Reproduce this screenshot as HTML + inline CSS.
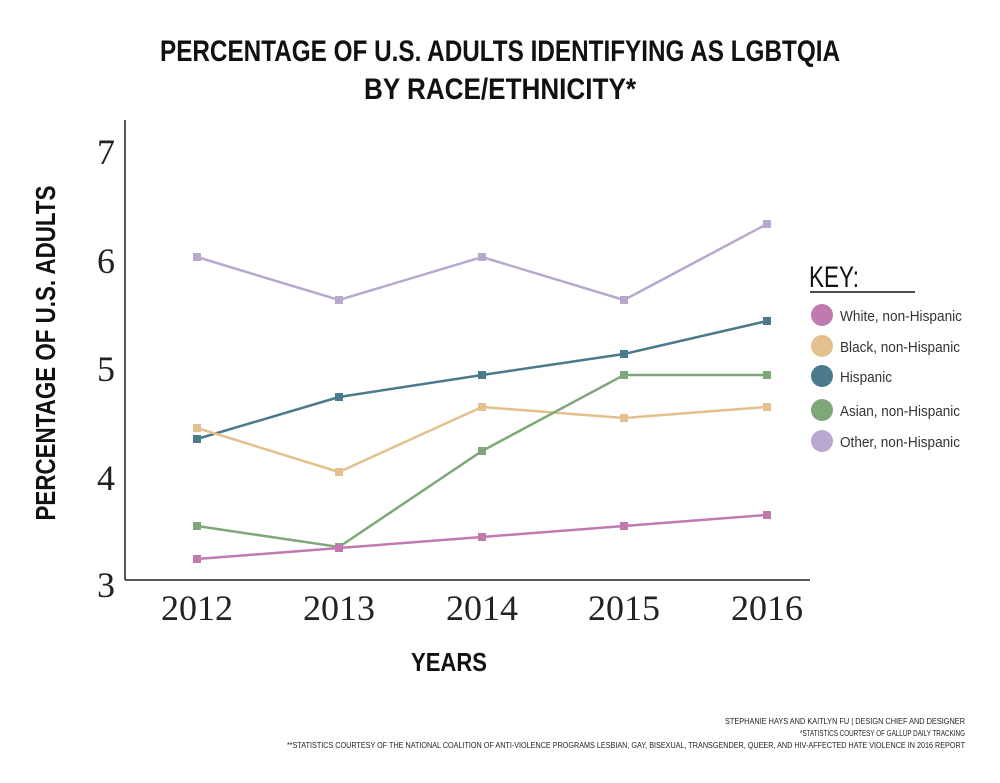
<!DOCTYPE html>
<html><head><style>body{margin:0;background:#fff}</style></head><body>
<svg width="1000" height="778" xmlns="http://www.w3.org/2000/svg">
<rect width="1000" height="778" fill="#fff"/>
<g font-family="Liberation Sans, sans-serif" font-weight="bold" fill="#111">
<text x="500" y="61" text-anchor="middle" font-size="30" textLength="680" lengthAdjust="spacingAndGlyphs">PERCENTAGE OF U.S. ADULTS IDENTIFYING AS LGBTQIA</text>
<text x="500" y="99" text-anchor="middle" font-size="30" textLength="272" lengthAdjust="spacingAndGlyphs">BY RACE/ETHNICITY*</text>
<text x="449" y="671" text-anchor="middle" font-size="26" textLength="76" lengthAdjust="spacingAndGlyphs">YEARS</text>
<text transform="translate(55,353) rotate(-90)" text-anchor="middle" font-size="28" textLength="335" lengthAdjust="spacingAndGlyphs">PERCENTAGE OF U.S. ADULTS</text>
</g>
<g stroke="#222" stroke-width="1.5"><line x1="125" y1="120" x2="125" y2="580"/><line x1="125" y1="580" x2="810" y2="580"/></g>
<g font-family="Liberation Serif, serif" font-size="36" fill="#222" text-anchor="middle">
<text x="106" y="164">7</text><text x="106" y="273">6</text><text x="106" y="381">5</text><text x="106" y="490">4</text><text x="106" y="597">3</text>
<text x="197" y="620">2012</text><text x="339" y="620">2013</text><text x="482" y="620">2014</text><text x="624" y="620">2015</text><text x="767" y="620">2016</text>
</g>
<g fill="none" stroke-width="2.5">
<polyline stroke="#b8a8d0" points="197,257 339,300 482,257 624,300 767,224"/>
<polyline stroke="#4a7a8c" points="197,439 339,397 482,375 624,354 767,321"/>
<polyline stroke="#e3c08e" points="197,428 339,472 482,407 624,418 767,407"/>
<polyline stroke="#7fa77a" points="197,526 339,547 482,451 624,375 767,375"/>
<polyline stroke="#c07ab0" points="197,559 339,548 482,537 624,526 767,515"/>
</g>
<g>
<g fill="#b8a8d0"><rect x="193" y="253" width="8" height="8"/><rect x="335" y="296" width="8" height="8"/><rect x="478" y="253" width="8" height="8"/><rect x="620" y="296" width="8" height="8"/><rect x="763" y="220" width="8" height="8"/></g>
<g fill="#4a7a8c"><rect x="193" y="435" width="8" height="8"/><rect x="335" y="393" width="8" height="8"/><rect x="478" y="371" width="8" height="8"/><rect x="620" y="350" width="8" height="8"/><rect x="763" y="317" width="8" height="8"/></g>
<g fill="#e3c08e"><rect x="193" y="424" width="8" height="8"/><rect x="335" y="468" width="8" height="8"/><rect x="478" y="403" width="8" height="8"/><rect x="620" y="414" width="8" height="8"/><rect x="763" y="403" width="8" height="8"/></g>
<g fill="#7fa77a"><rect x="193" y="522" width="8" height="8"/><rect x="335" y="543" width="8" height="8"/><rect x="478" y="447" width="8" height="8"/><rect x="620" y="371" width="8" height="8"/><rect x="763" y="371" width="8" height="8"/></g>
<g fill="#c07ab0"><rect x="193" y="555" width="8" height="8"/><rect x="335" y="544" width="8" height="8"/><rect x="478" y="533" width="8" height="8"/><rect x="620" y="522" width="8" height="8"/><rect x="763" y="511" width="8" height="8"/></g>
</g>
<text x="809" y="287" font-family="Liberation Sans, sans-serif" font-size="30" fill="#111" textLength="50" lengthAdjust="spacingAndGlyphs">KEY:</text>
<line x1="810" y1="292" x2="915" y2="292" stroke="#111" stroke-width="1.5"/>
<g font-family="Liberation Sans, sans-serif" font-size="15" fill="#333">
<circle cx="822" cy="315" r="11" fill="#c07ab0"/><text x="840" y="321" textLength="122" lengthAdjust="spacingAndGlyphs">White, non-Hispanic</text>
<circle cx="822" cy="346" r="11" fill="#e3c08e"/><text x="840" y="352" textLength="120" lengthAdjust="spacingAndGlyphs">Black, non-Hispanic</text>
<circle cx="822" cy="376" r="11" fill="#4a7a8c"/><text x="840" y="382" textLength="52" lengthAdjust="spacingAndGlyphs">Hispanic</text>
<circle cx="822" cy="410" r="11" fill="#7fa77a"/><text x="840" y="416" textLength="120" lengthAdjust="spacingAndGlyphs">Asian, non-Hispanic</text>
<circle cx="822" cy="441" r="11" fill="#b8a8d0"/><text x="840" y="447" textLength="120" lengthAdjust="spacingAndGlyphs">Other, non-Hispanic</text>
</g>
<g font-family="Liberation Sans, sans-serif" font-size="8" fill="#222" text-anchor="end">
<text x="965" y="724" textLength="240" lengthAdjust="spacingAndGlyphs">STEPHANIE HAYS AND KAITLYN FU | DESIGN CHIEF AND DESIGNER</text>
<text x="965" y="736" textLength="165" lengthAdjust="spacingAndGlyphs">*STATISTICS COURTESY OF GALLUP DAILY TRACKING</text>
<text x="965" y="748" textLength="678" lengthAdjust="spacingAndGlyphs">**STATISTICS COURTESY OF THE NATIONAL COALITION OF ANTI-VIOLENCE PROGRAMS LESBIAN, GAY, BISEXUAL, TRANSGENDER, QUEER, AND HIV-AFFECTED HATE VIOLENCE IN 2016 REPORT</text>
</g>
</svg>
</body></html>
